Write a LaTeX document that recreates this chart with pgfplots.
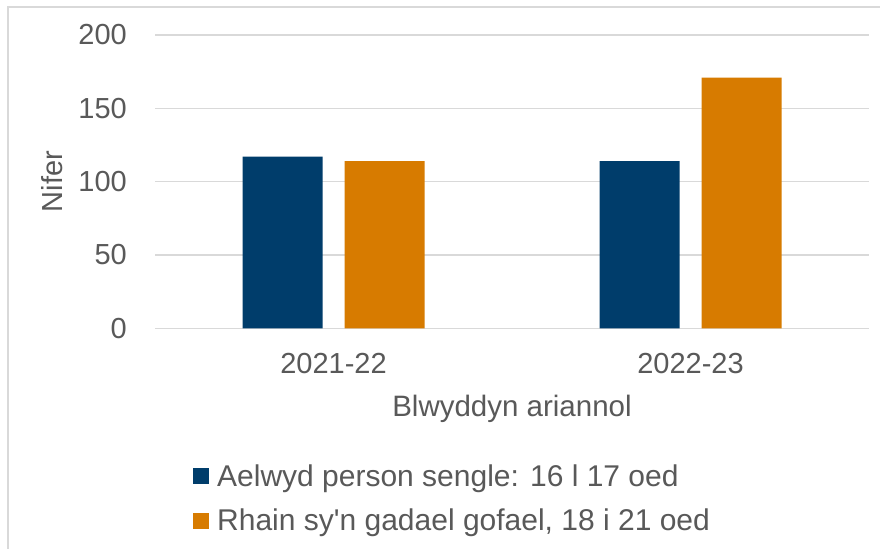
\documentclass[border=0pt]{standalone}
\usepackage{pgfplots}
\pgfplotsset{compat=1.18}
\usepackage{fontspec}
\setmainfont{Liberation Sans}[Ligatures=TeXOff]
\definecolor{txt}{HTML}{595959}
\definecolor{gridc}{HTML}{D9D9D9}
\definecolor{cblue}{HTML}{003D6B}
\definecolor{corange}{HTML}{D77B00}
\begin{document}
\begin{tikzpicture}
\useasboundingbox (0,0) rectangle (880bp,549bp);
\fill[white] (0,0) rectangle (880bp,549bp);
\draw[gridc, line width=1.5bp] (8bp,0) -- (8bp,542bp) -- (880bp,542bp);
\begin{axis}[
  at={(155bp,220.7bp)}, anchor=south west,
  scale only axis, width=714bp, height=293.3bp,
  xmin=-0.5, xmax=1.5, ymin=0, ymax=200,
  ytick={0,50,100,150,200},
  xtick={0,1}, xticklabels={2021-22,2022-23},
  ybar=22bp, bar width=80bp,
  axis line style={draw=none},
  major tick length=0pt,
  ymajorgrids, grid style={gridc, line width=1.5bp},
  tick label style={font=\fontsize{29bp}{34bp}\selectfont, text=txt},
  /pgf/number format/assume math mode=true,
  yticklabel style={anchor=east, inner sep=0pt, xshift=-28bp},
  xticklabel style={anchor=north, inner sep=0pt, yshift=-25bp},
  xlabel={Blwyddyn ariannol}, ylabel={Nifer},
  xlabel style={at={(axis description cs:0.5,-0.2274)}, anchor=north, inner sep=0pt, font=\fontsize{29.5bp}{35bp}\selectfont, text=txt},
  ylabel style={at={(axis description cs:-0.1289,0.5)}, anchor=south, inner sep=0pt, font=\fontsize{29bp}{35bp}\selectfont, text=txt},
  legend cell align=left,
  legend style={at={(axis description cs:0.0532,-0.4644)}, anchor=north west, draw=none, fill=none, inner sep=0pt, row sep=21bp, column sep=8bp, nodes={inner sep=0pt}, font=\fontsize{30bp}{36bp}\selectfont, text=txt},
  every axis plot post/.append style={legend image code/.code={\fill[##1] (0bp,-8bp) rectangle (16bp,8bp);}},
]
\addplot[fill=cblue, draw=none] coordinates {(0,117) (1,114)};
\addplot[fill=corange, draw=none] coordinates {(0,114) (1,171)};
\legend{Aelwyd person sengle: 16 l 17 oed, {Rhain sy'n gadael gofael, 18 i 21 oed}}
\end{axis}
\end{tikzpicture}
\end{document}
